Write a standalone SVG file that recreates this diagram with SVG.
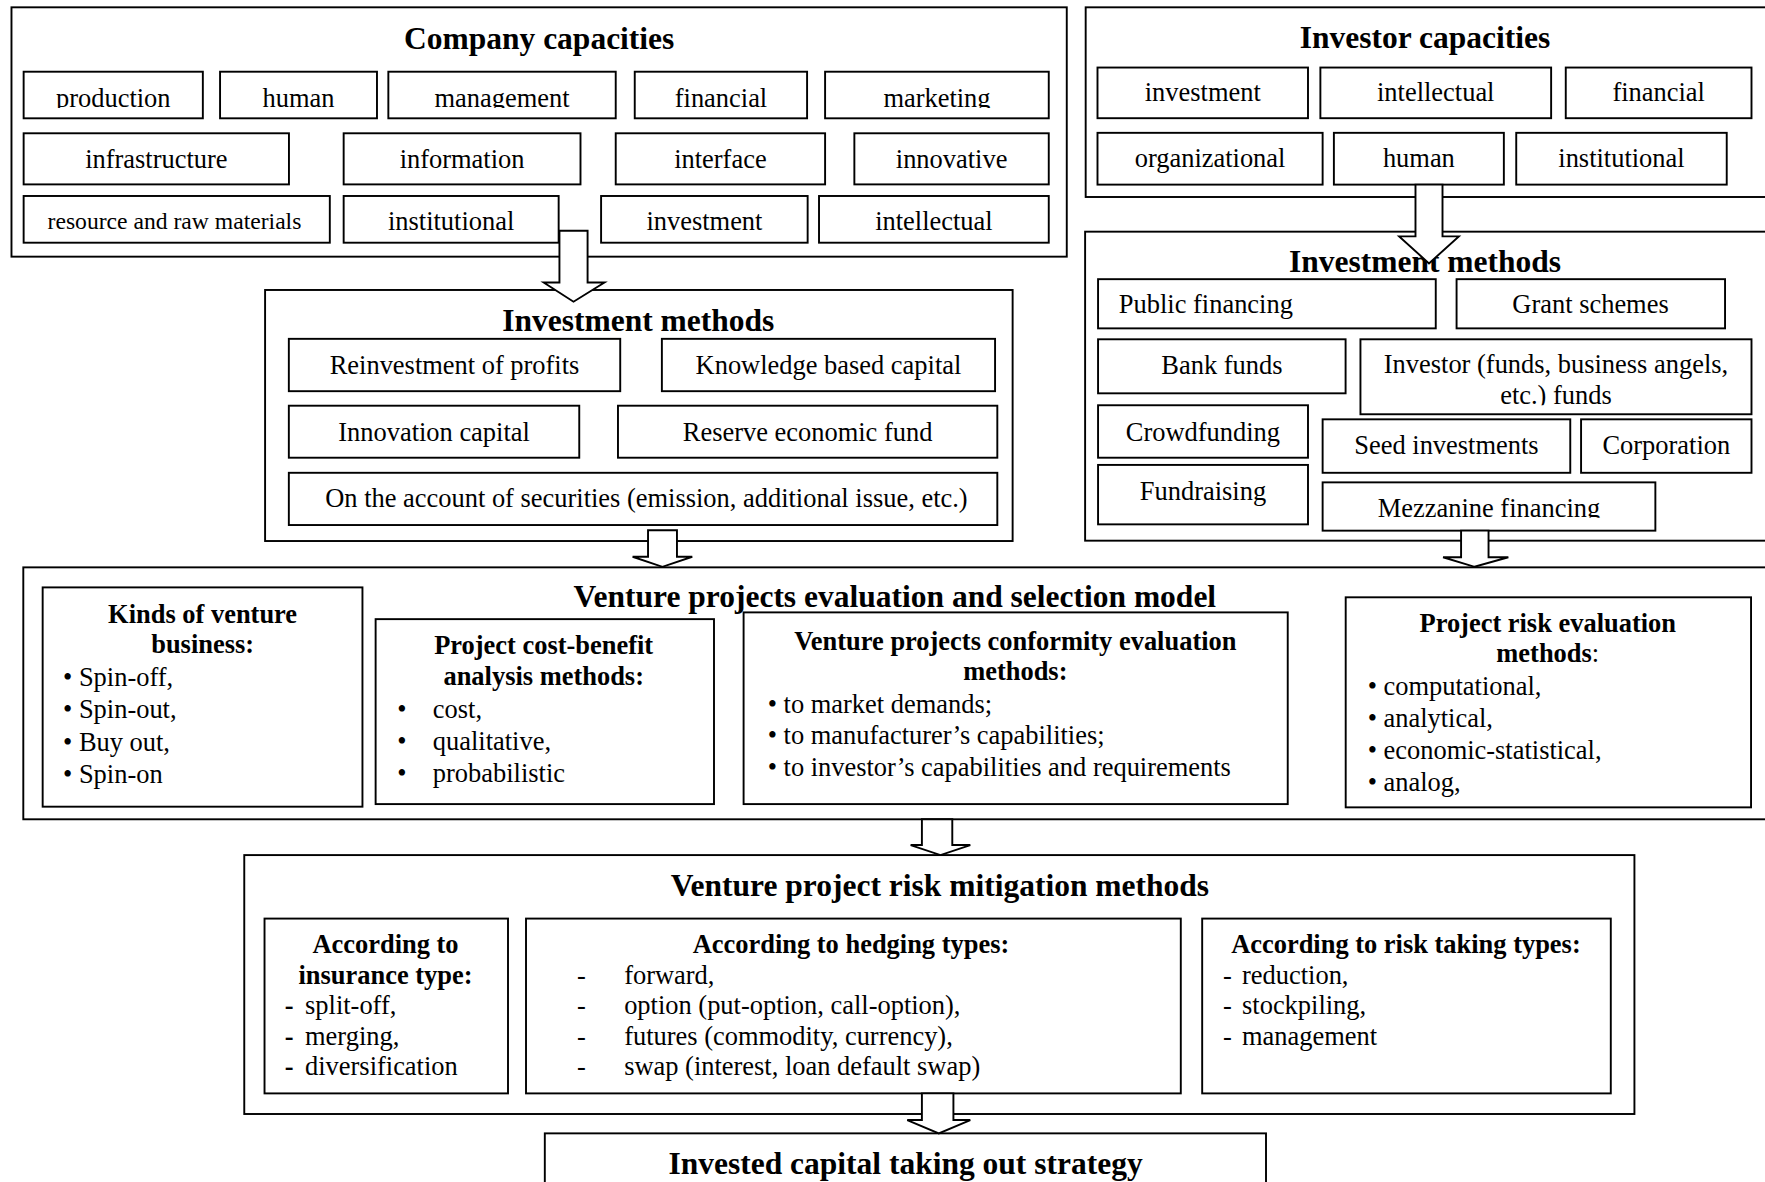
<svg xmlns="http://www.w3.org/2000/svg" width="1765" height="1182" viewBox="0 0 1765 1182">
<style>
.b{fill:#fff;stroke:#000;stroke-width:1.7}
.t{font-family:"Liberation Serif","Times New Roman",serif;font-size:23.5px;fill:#000}
.h{font-family:"Liberation Serif","Times New Roman",serif;font-size:28px;font-weight:bold;fill:#000;text-anchor:middle}
.s{font-family:"Liberation Serif","Times New Roman",serif;font-size:23.5px;font-weight:bold;fill:#000;text-anchor:middle}
.c{text-anchor:middle}
.sm{font-size:21px}
.a{fill:#fff;stroke:#000;stroke-width:1.7;stroke-linejoin:miter}
</style>
<defs>
<clipPath id="c1" clipPathUnits="userSpaceOnUse"><rect x="0" y="55" width="960" height="41"/></clipPath>
<clipPath id="c2" clipPathUnits="userSpaceOnUse"><rect x="1200" y="300" width="370" height="60"/></clipPath>
<clipPath id="c3" clipPathUnits="userSpaceOnUse"><rect x="1170" y="425" width="310" height="35"/></clipPath>
</defs>
<rect x="0" y="0" width="1765" height="1182" fill="#fff"/>
<g transform="scale(1.12564 1.12571)">
<g id="company-capacities">
<rect class="b" x="10.2" y="6.5" width="937.5" height="221.5"/>
<text class="h" x="479" y="43.8">Company capacities</text>
<g id="cc-production"><rect class="b" x="21" y="63.7" width="159.2" height="41.4"/><text class="t c" x="100.6" y="95" clip-path="url(#c1)">production</text></g>
<g id="cc-human"><rect class="b" x="195.5" y="63.7" width="139.4" height="41.4"/><text class="t c" x="265.2" y="95" clip-path="url(#c1)">human</text></g>
<g id="cc-management"><rect class="b" x="345" y="63.7" width="202" height="41.4"/><text class="t c" x="446" y="95" clip-path="url(#c1)">management</text></g>
<g id="cc-financial"><rect class="b" x="563.9" y="63.7" width="153.1" height="41.4"/><text class="t c" x="640.5" y="95" clip-path="url(#c1)">financial</text></g>
<g id="cc-marketing"><rect class="b" x="733" y="63.7" width="198.7" height="41.4"/><text class="t c" x="832.4" y="95" clip-path="url(#c1)">marketing</text></g>
<g id="cc-infrastructure"><rect class="b" x="21" y="118.4" width="235.7" height="45.4"/><text class="t c" x="138.9" y="149.5">infrastructure</text></g>
<g id="cc-information"><rect class="b" x="305.3" y="118.4" width="210.4" height="45.4"/><text class="t c" x="410.5" y="149.5">information</text></g>
<g id="cc-interface"><rect class="b" x="547" y="118.4" width="186" height="45.4"/><text class="t c" x="640" y="149.5">interface</text></g>
<g id="cc-innovative"><rect class="b" x="759" y="118.4" width="172.7" height="45.4"/><text class="t c" x="845.4" y="149.5">innovative</text></g>
<g id="cc-resource"><rect class="b" x="21" y="174.1" width="272" height="41.5"/><text class="t c sm" x="155" y="203">resource and raw materials</text></g>
<g id="cc-institutional"><rect class="b" x="305.3" y="174.1" width="191" height="41.5"/><text class="t c" x="400.8" y="204.3">institutional</text></g>
<g id="cc-investment"><rect class="b" x="534" y="174.1" width="183.5" height="41.5"/><text class="t c" x="625.8" y="204.3">investment</text></g>
<g id="cc-intellectual"><rect class="b" x="727.6" y="174.1" width="204.1" height="41.5"/><text class="t c" x="829.7" y="204.3">intellectual</text></g>
</g>
<g id="investor-capacities">
<rect class="b" x="964.5" y="6.5" width="612" height="168.5"/>
<text class="h" x="1266" y="42.5">Investor capacities</text>
<g id="ic-investment"><rect class="b" x="975" y="60" width="187" height="45"/><text class="t c" x="1068.5" y="89.5">investment</text></g>
<g id="ic-intellectual"><rect class="b" x="1173" y="60" width="205" height="45"/><text class="t c" x="1275.5" y="89.5">intellectual</text></g>
<g id="ic-financial"><rect class="b" x="1391" y="60" width="165" height="45"/><text class="t c" x="1473.5" y="89.5">financial</text></g>
<g id="ic-organizational"><rect class="b" x="975" y="118" width="200" height="46"/><text class="t c" x="1075" y="148.5">organizational</text></g>
<g id="ic-human"><rect class="b" x="1185" y="118" width="151" height="46"/><text class="t c" x="1260.5" y="148.5">human</text></g>
<g id="ic-institutional"><rect class="b" x="1347" y="118" width="187" height="46"/><text class="t c" x="1440.5" y="148.5">institutional</text></g>
</g>
<g id="company-investment-methods">
<rect class="b" x="235.5" y="257.6" width="664.1" height="223"/>
<text class="h" x="567" y="294">Investment methods</text>
<g id="cm-reinvestment"><rect class="b" x="256.6" y="301" width="294.4" height="46.5"/><text class="t c" x="403.8" y="332">Reinvestment of profits</text></g>
<g id="cm-knowledge"><rect class="b" x="588" y="301" width="296" height="46.5"/><text class="t c" x="736" y="332">Knowledge based capital</text></g>
<g id="cm-innovation"><rect class="b" x="256.6" y="360.4" width="258" height="46.2"/><text class="t c" x="385.6" y="391.5">Innovation capital</text></g>
<g id="cm-reserve"><rect class="b" x="549" y="360.4" width="337" height="46.2"/><text class="t c" x="717.5" y="391.5">Reserve economic fund</text></g>
<g id="cm-securities"><rect class="b" x="256.6" y="420" width="629.4" height="46.4"/><text class="t c" x="574.3" y="450.5">On the account of securities (emission, additional issue, etc.)</text></g>
</g>
<g id="investor-investment-methods">
<rect class="b" x="964" y="205.8" width="612.5" height="274.5"/>
<text class="h" x="1266" y="241.5">Investment methods</text>
<g id="im-public"><rect class="b" x="975.5" y="248" width="300" height="43.7"/><text class="t" x="994" y="278.4">Public financing</text></g>
<g id="im-grant"><rect class="b" x="1294" y="248" width="238.5" height="43.7"/><text class="t c" x="1413" y="278.4">Grant schemes</text></g>
<g id="im-bank"><rect class="b" x="975.5" y="301.4" width="219.9" height="48"/><text class="t c" x="1085.5" y="332.5">Bank funds</text></g>
<g id="im-investor"><rect class="b" x="1208.6" y="301.4" width="347.4" height="66.6"/><text class="t c" clip-path="url(#c2)"><tspan x="1382.3" y="331.7">Investor (funds, business angels,</tspan><tspan x="1382.3" y="359.2">etc.) funds</tspan></text></g>
<g id="im-crowdfunding"><rect class="b" x="975.5" y="360" width="186.5" height="46.6"/><text class="t c" x="1068.7" y="391.5">Crowdfunding</text></g>
<g id="im-seed"><rect class="b" x="1175" y="372.5" width="220" height="47.5"/><text class="t c" x="1285" y="403.6">Seed investments</text></g>
<g id="im-corporation"><rect class="b" x="1404.6" y="372.5" width="151.4" height="47.5"/><text class="t c" x="1480.3" y="403.3">Corporation</text></g>
<g id="im-fundraising"><rect class="b" x="975.5" y="413" width="186.5" height="52.8"/><text class="t c" x="1068.7" y="444.2">Fundraising</text></g>
<g id="im-mezzanine"><rect class="b" x="1175" y="428.5" width="295.6" height="42.9"/><text class="t c" x="1322.8" y="459" clip-path="url(#c3)">Mezzanine financing</text></g>
</g>
<g id="venture-evaluation-model">
<rect class="b" x="20.7" y="504" width="1555" height="223.8"/>
<text class="h" x="795" y="539">Venture projects evaluation and selection model</text>
<g id="ve-kinds">
<rect class="b" x="37.9" y="521.8" width="284.1" height="194.8"/>
<text class="s" x="180" y="553.7">Kinds of venture</text>
<text class="s" x="180" y="580.4">business:</text>
<text class="t" x="56" y="609">• Spin-off,</text>
<text class="t" x="56" y="638">• Spin-out,</text>
<text class="t" x="56" y="667">• Buy out,</text>
<text class="t" x="56" y="696">• Spin-on</text>
</g>
<g id="ve-costbenefit">
<rect class="b" x="333.7" y="550" width="300.6" height="164.3"/>
<text class="s" x="483" y="581.3">Project cost-benefit</text>
<text class="s" x="483" y="608.5">analysis methods:</text>
<text class="t"><tspan x="353" y="637.5">•</tspan><tspan x="384.5" y="637.5">cost,</tspan></text>
<text class="t"><tspan x="353" y="666">•</tspan><tspan x="384.5" y="666">qualitative,</tspan></text>
<text class="t"><tspan x="353" y="695">•</tspan><tspan x="384.5" y="695">probabilistic</tspan></text>
</g>
<g id="ve-conformity">
<rect class="b" x="660.6" y="544" width="483.4" height="170.3"/>
<text class="s" x="902" y="577">Venture projects conformity evaluation</text>
<text class="s" x="902" y="604">methods:</text>
<text class="t" x="682" y="633">• to market demands;</text>
<text class="t" x="682" y="661">• to manufacturer’s capabilities;</text>
<text class="t" x="682" y="689">• to investor’s capabilities and requirements</text>
</g>
<g id="ve-risk">
<rect class="b" x="1195.5" y="530.6" width="360.1" height="186.6"/>
<text class="s" x="1375" y="561">Project risk evaluation</text>
<text class="s" x="1375" y="588">methods<tspan font-weight="normal">:</tspan></text>
<text class="t" x="1215" y="617.5">• computational,</text>
<text class="t" x="1215" y="646">• analytical,</text>
<text class="t" x="1215" y="674.5">• economic-statistical,</text>
<text class="t" x="1215" y="703">• analog,</text>
</g>
</g>
<g id="risk-mitigation">
<rect class="b" x="217" y="759.6" width="1235" height="230"/>
<text class="h" x="835" y="796">Venture project risk mitigation methods</text>
<g id="rm-insurance">
<rect class="b" x="235" y="816" width="216.3" height="155.3"/>
<text class="s" x="342.5" y="847">According to</text>
<text class="s" x="342.5" y="874">insurance type:</text>
<text class="t"><tspan x="253" y="901" font-weight="bold">-</tspan><tspan x="271" y="901">split-off,</tspan></text>
<text class="t"><tspan x="253" y="928" font-weight="bold">-</tspan><tspan x="271" y="928">merging,</tspan></text>
<text class="t"><tspan x="253" y="955" font-weight="bold">-</tspan><tspan x="271" y="955">diversification</tspan></text>
</g>
<g id="rm-hedging">
<rect class="b" x="467.3" y="816" width="581.7" height="155.3"/>
<text class="s" x="756" y="847">According to hedging types:</text>
<text class="t"><tspan x="512.5" y="874">-</tspan><tspan x="554.5" y="874">forward,</tspan></text>
<text class="t"><tspan x="512.5" y="901">-</tspan><tspan x="554.5" y="901">option (put-option, call-option),</tspan></text>
<text class="t"><tspan x="512.5" y="928">-</tspan><tspan x="554.5" y="928">futures (commodity, currency),</tspan></text>
<text class="t"><tspan x="512.5" y="955">-</tspan><tspan x="554.5" y="955">swap (interest, loan default swap)</tspan></text>
</g>
<g id="rm-risktaking">
<rect class="b" x="1068" y="816" width="363" height="155.3"/>
<text class="s" x="1249" y="847">According to risk taking types:</text>
<text class="t"><tspan x="1086.5" y="874">-</tspan><tspan x="1103.4" y="874">reduction,</tspan></text>
<text class="t"><tspan x="1086.5" y="901">-</tspan><tspan x="1103.4" y="901">stockpiling,</tspan></text>
<text class="t"><tspan x="1086.5" y="928">-</tspan><tspan x="1103.4" y="928">management</tspan></text>
</g>
</g>
<g id="exit-strategy">
<rect class="b" x="484" y="1006.8" width="640.7" height="60"/>
<text class="h" x="804.5" y="1042.5">Invested capital taking out strategy</text>
</g>
<g id="connectors">
<path class="a" d="M497 205 H522 V251 H537 L509.5 268 L483 251 H497 Z"/>
<path class="a" d="M1257.5 164 H1281.5 V210 H1296 L1269.5 234 L1243 210 H1257.5 Z"/>
<path class="a" d="M575.7 471 H601.4 V494.6 H615 L588.5 503.5 L562 494.6 H575.7 Z"/>
<path class="a" d="M1298 471.4 H1322.4 V495 H1340 L1310 503.5 L1282 495 H1298 Z"/>
<path class="a" d="M819 727.8 H846 V750.7 H862 L835.5 759.6 L809 750.7 H819 Z"/>
<path class="a" d="M819 971.3 H847 V995 H862 L834 1006.8 L806 995 H819 Z"/>
</g>
</g>
</svg>
